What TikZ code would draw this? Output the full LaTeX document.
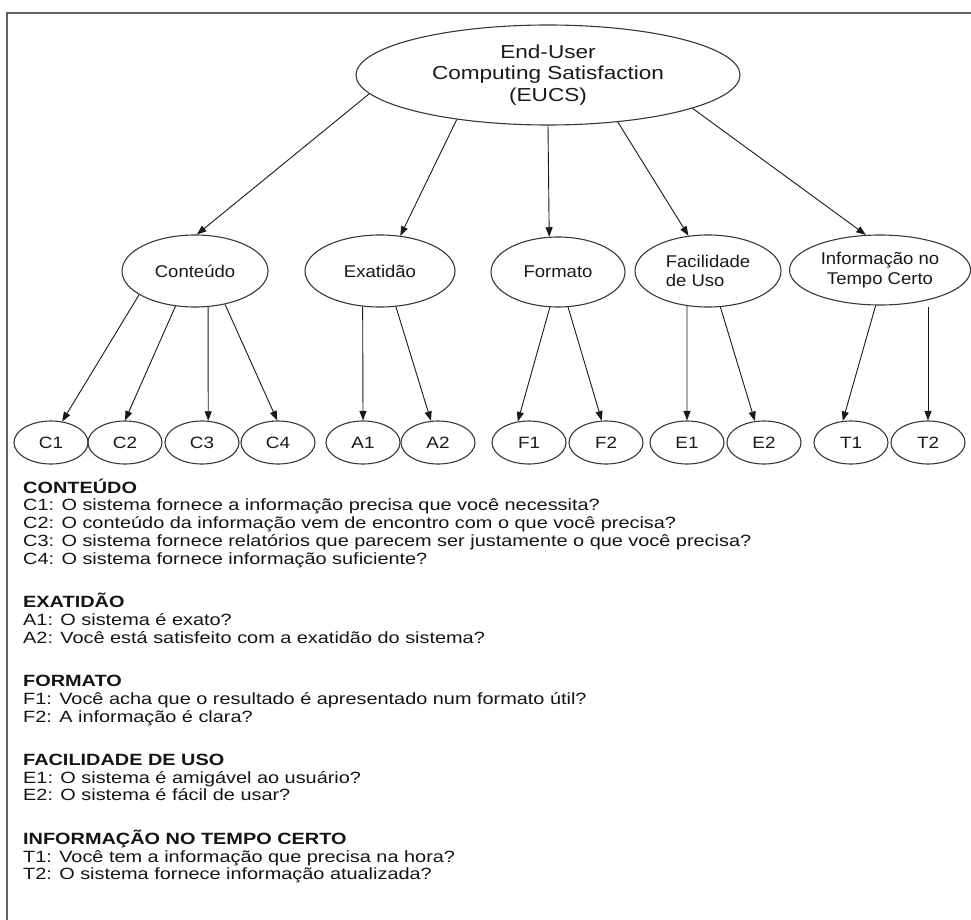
\documentclass[tikz,border=0pt]{standalone}
\usepackage{fontspec}
\setmainfont{Liberation Sans}
\newfontfamily\topf[FakeStretch=1.2]{Liberation Sans}
\newfontfamily\midf[FakeStretch=1.09]{Liberation Sans}
\newfontfamily\botf[FakeStretch=1.15]{Liberation Sans}
\newfontfamily\bodyf[FakeStretch=1.22]{Liberation Sans}
\usetikzlibrary{shapes.geometric,arrows.meta}
\begin{document}
\begin{tikzpicture}[x=1pt,y=-1pt,
  ell/.style={ellipse, draw=black!78, line width=1.1pt, inner sep=0pt, text=black!90},
  topell/.style={ell, minimum width=384pt, minimum height=100pt, align=center, font=\topf\fontsize{18.8}{21.5}\selectfont},
  midell/.style={ell, minimum height=72pt, font=\midf\fontsize{17}{19.5}\selectfont},
  botell/.style={ell, minimum width=74pt, minimum height=43pt, font=\botf\fontsize{16.4}{18}\selectfont},
  arr/.style={-{Triangle[length=9.5pt,width=7pt]}, line width=0.9pt, draw=black!90},
  body/.style={anchor=base west, inner sep=0pt, font=\bodyf\fontsize{16.3}{17.6}\selectfont, text=black!92}
]
\fill[white] (0,0) rectangle (971,920);
\useasboundingbox (0,0) rectangle (971,920);
% frame
\draw[line width=2.2pt, black!62] (7,921) -- (7,13) -- (972,13);

% top
\node[topell] (top) at (548,75) {End-User\\Computing Satisfaction\\(EUCS)};

% middle
\node[midell, minimum width=146pt] (cont) at (195,271) {Conteúdo};
\node[midell, minimum width=150pt] (exa) at (380,271) {Exatidão};
\node[midell, minimum width=134pt, minimum height=70pt] (fmt) at (558,272) {Formato};
\node[midell, minimum width=146pt, align=left] (fac) at (708,271) {Facilidade\\de Uso};
\node[midell, minimum width=181pt, minimum height=70pt, align=center] (inf) at (880,270) {Informação no\\Tempo Certo};

% bottom
\foreach \n/\x/\t in {c1/51/C1, c2/125/C2, c3/202/C3, c4/278/C4, a1/363/A1, a2/438/A2, f1/529/F1, f2/606/F2, e1/687/E1, e2/764/E2, t1/851/T1, t2/928/T2}
  \node[botell] (\n) at (\x,442.5) {\t};

% arrows from top
\draw[arr] (top.186) -- (cont.87);
\draw[arr] (top.206) -- (exa.60);
\draw[arr] (top.270) -- (fmt.104.5);
\draw[arr] (top.326.5) -- (fac.119.7);
\draw[arr] (top.347) -- (inf.112);

% arrows to items
\draw[arr] (cont.203) -- (c1.62);
\draw[arr] (cont.241) -- (c2.90);
\draw[arr] (cont.290) -- (c3.74);
\draw[arr] (cont.312) -- (c4.92);
\draw[arr] (exa.244) -- (a1.90);
\draw[arr] (exa.294) -- (a2.108);
\draw[arr] (fmt.257) -- (f1.118);
\draw[arr] (fmt.286) -- (f2.101);
\draw[arr] (fac.239) -- (e1.90);
\draw[arr] (fac.289) -- (e2.113);
\draw[arr] (inf.263) -- (t1.111);
\coordinate (t2s) at (928,307);
\draw[arr] (t2s) -- (t2.90);

% question list
\foreach \i/\y/\t in {
  1/493/{\bfseries CONTEÚDO},
  2/510.8/{C1: O sistema fornece a informação precisa que você necessita?},
  3/528.6/{C2: O conteúdo da informação vem de encontro com o que você precisa?},
  4/546.4/{C3: O sistema fornece relatórios que parecem ser justamente o que você precisa?},
  5/564.2/{C4: O sistema fornece informação suficiente?},
  6/607.5/{\bfseries EXATIDÃO},
  7/625.3/{A1: O sistema é exato?},
  8/643.1/{A2: Você está satisfeito com a exatidão do sistema?},
  9/686.4/{\bfseries FORMATO},
  10/704.2/{F1: Você acha que o resultado é apresentado num formato útil?},
  11/722/{F2: A informação é clara?},
  12/765.3/{\bfseries FACILIDADE DE USO},
  13/783.1/{E1: O sistema é amigável ao usuário?},
  14/800.9/{E2: O sistema é fácil de usar?},
  15/844.2/{\bfseries INFORMAÇÃO NO TEMPO CERTO},
  16/862/{T1: Você tem a informação que precisa na hora?},
  17/879.8/{T2: O sistema fornece informação atualizada?}}
  \node[body] (q\i) at (23,\y) {\t};
\end{tikzpicture}
\end{document}
